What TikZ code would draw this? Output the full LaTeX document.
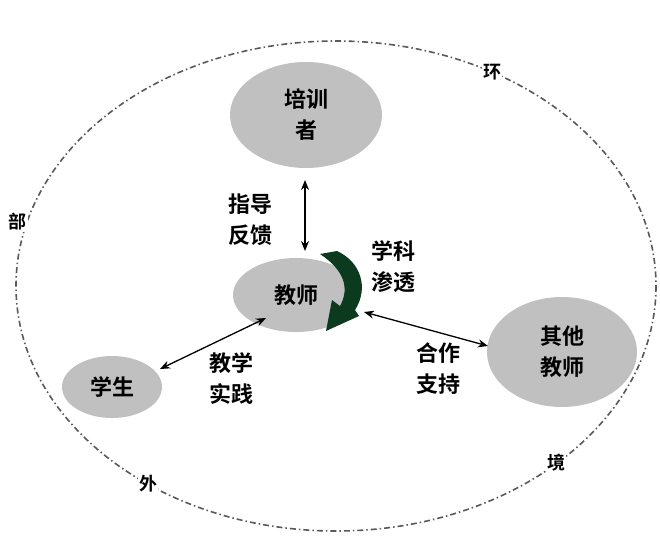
\documentclass[tikz,border=0pt]{standalone}
\usepackage{fontspec}
\setmainfont{Noto Sans CJK SC}[BoldFont={* Bold}]
\usetikzlibrary{arrows.meta,shapes.geometric}
\definecolor{nodegray}{RGB}{192,192,192}
\definecolor{dkgreen}{RGB}{12,58,30}
\tikzset{
  blob/.style={ellipse,fill=nodegray,draw=none,inner sep=0pt,align=center,font=\bfseries\fontsize{22}{31}\selectfont},
  lbl/.style={align=center,font=\bfseries\fontsize{22}{31}\selectfont,inner sep=0pt},
  edge/.style={line width=1.3pt,{Stealth[length=10pt,width=8pt]}-{Stealth[length=10pt,width=8pt]}},
  envlbl/.style={fill=white,inner sep=1pt,font=\bfseries\fontsize{18}{20}\selectfont}
}
\begin{document}
\begin{tikzpicture}[x=1pt,y=-1pt]
\useasboundingbox (0,0) rectangle (660,536);
% outer environment
\draw[gray!70!black,line width=1.6pt,dash pattern=on 6pt off 3pt on 1.5pt off 3pt] (336,286) ellipse [x radius=320,y radius=245];
\node[envlbl] (env1) at (492,72) {环};
\node[envlbl] (env2) at (18,222) {部};
\node[envlbl] (env3) at (148,484) {外};
\node[envlbl] (env4) at (556,463) {境};
% nodes
\node[blob,minimum width=152pt,minimum height=106pt] (trainer) at (306,115) {培训\\者};
\node[blob,minimum width=126pt,minimum height=74pt] (teacher) at (296,295) {教师};
\node[blob,minimum width=100pt,minimum height=62pt] (student) at (112,387) {学生};
\node[blob,minimum width=150pt,minimum height=110pt] (others) at (562,352) {其他\\教师};
% connectors
\coordinate (a1) at (305,180);
\coordinate (a2) at (305,251);
\draw[edge] (a1) -- (a2);
\coordinate (b1) at (160,369);
\coordinate (b2) at (266,318);
\draw[edge] (b1) -- (b2);
\coordinate (c1) at (364,312);
\coordinate (c2) at (488,346);
\draw[edge] (c1) -- (c2);
% curved green arrow
\fill[dkgreen] (320,254) -- (337,251) .. controls (361,262) and (369,288) .. (355,310)
  -- (359,316) -- (326,331) -- (332,300) -- (340,306)
  .. controls (350,288) and (344,270) .. (320,254) -- cycle;
% labels
\node[lbl] (l1) at (250,220) {指导\\反馈};
\node[lbl] (l2) at (393,267) {学科\\渗透};
\node[lbl] (l3) at (231,379) {教学\\实践};
\node[lbl] (l4) at (438,369) {合作\\支持};
\end{tikzpicture}
\end{document}
